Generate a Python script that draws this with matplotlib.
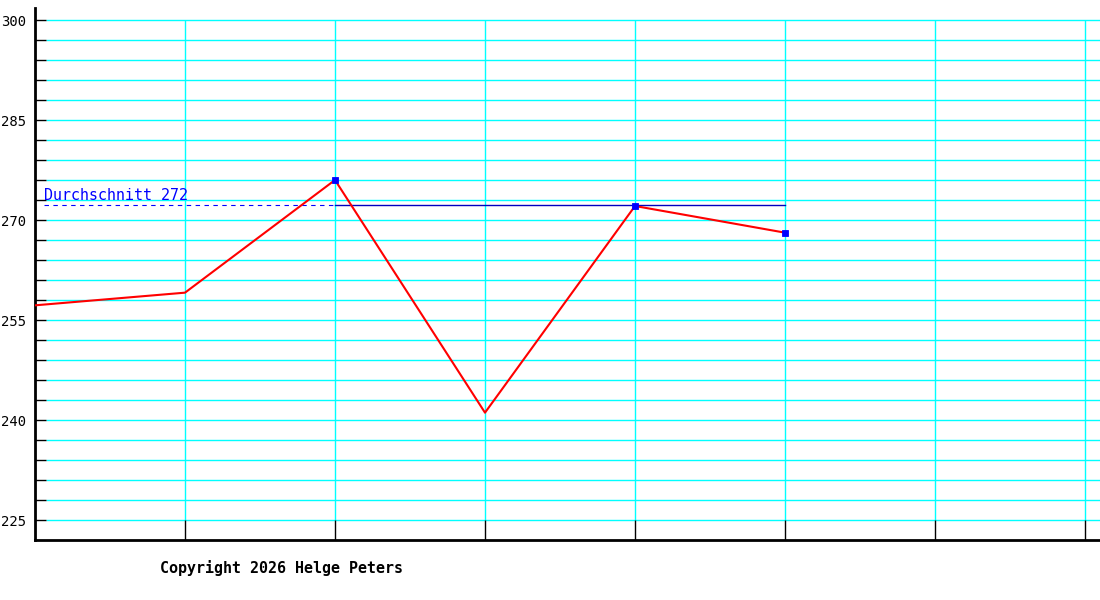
import numpy as np
import matplotlib
matplotlib.use('Agg')
import matplotlib.pyplot as plt

# Werte
werte = [257.2, 259.1, 276.0, 241.1, 272.1, 268.1]
mit_marker = [2, 4, 5]
durchschnitt = 272.2
durchschnitt_text = 'Durchschnitt 272'
copyright_text = 'Copyright 2026 Helge Peters'

y_major = [225, 240, 255, 270, 285, 300]
y_gitter = list(range(225, 301, 3))
x_gitter = [1, 2, 3, 4, 5, 6, 7]

plt.rcParams['font.family'] = ['DejaVu Sans Mono']

fig = plt.figure(figsize=(11, 6), dpi=100)
ax = fig.add_axes([35 / 1100, 60 / 600, 1 - 35 / 1100, 532 / 600])
ax.set_xlim(0, 7.1)
ax.set_ylim(222, 301.8)

# Gitter
ax.hlines(y_gitter, 11 / 150, 7.1, colors='#00ffff', linewidth=1, zorder=1)
ax.vlines(x_gitter, 225, 300, colors='#00ffff', linewidth=1, zorder=1)

# Durchschnittslinie: gestrichelt bis Punkt 2, dann durchgezogen
ax.plot([0.06, 2], [durchschnitt, durchschnitt], color='#0000ff', linewidth=0.8,
        dashes=(4, 4), zorder=2)
ax.plot([2, len(werte) - 1], [durchschnitt, durchschnitt], color='#0000c0',
        linewidth=1, zorder=2)
ax.text(0.06, durchschnitt + 0.4, durchschnitt_text, color='#0000ff',
        fontsize=10.8, ha='left', va='bottom', zorder=3)

# Datenreihe
x = np.arange(len(werte))
ax.plot(x, werte, color='#ff0000', linewidth=1.5, marker='s', markersize=4,
        markeredgewidth=0.6, markerfacecolor='#0000ff', markeredgecolor='#0000ff',
        markevery=mit_marker, zorder=4)

# Achsen
for s in ['top', 'right']:
    ax.spines[s].set_visible(False)
for s in ['left', 'bottom']:
    ax.spines[s].set_linewidth(2)
    ax.spines[s].set_color('black')

ax.set_yticks(y_major)
ax.set_yticks(y_gitter, minor=True)
ax.set_yticklabels([str(v) for v in y_major], fontsize=10)
ax.tick_params(axis='y', which='both', direction='in', length=8, width=1,
               pad=6.5, color='black')
ax.set_xticks(x_gitter)
ax.set_xticklabels([])
ax.tick_params(axis='x', direction='in', length=14.4, width=1, color='black')

fig.text(160 / 1100, 1 - 568 / 600, copyright_text, fontsize=10.8,
         fontweight='bold', ha='left', va='center')

fig.savefig('out.png', dpi=100)
